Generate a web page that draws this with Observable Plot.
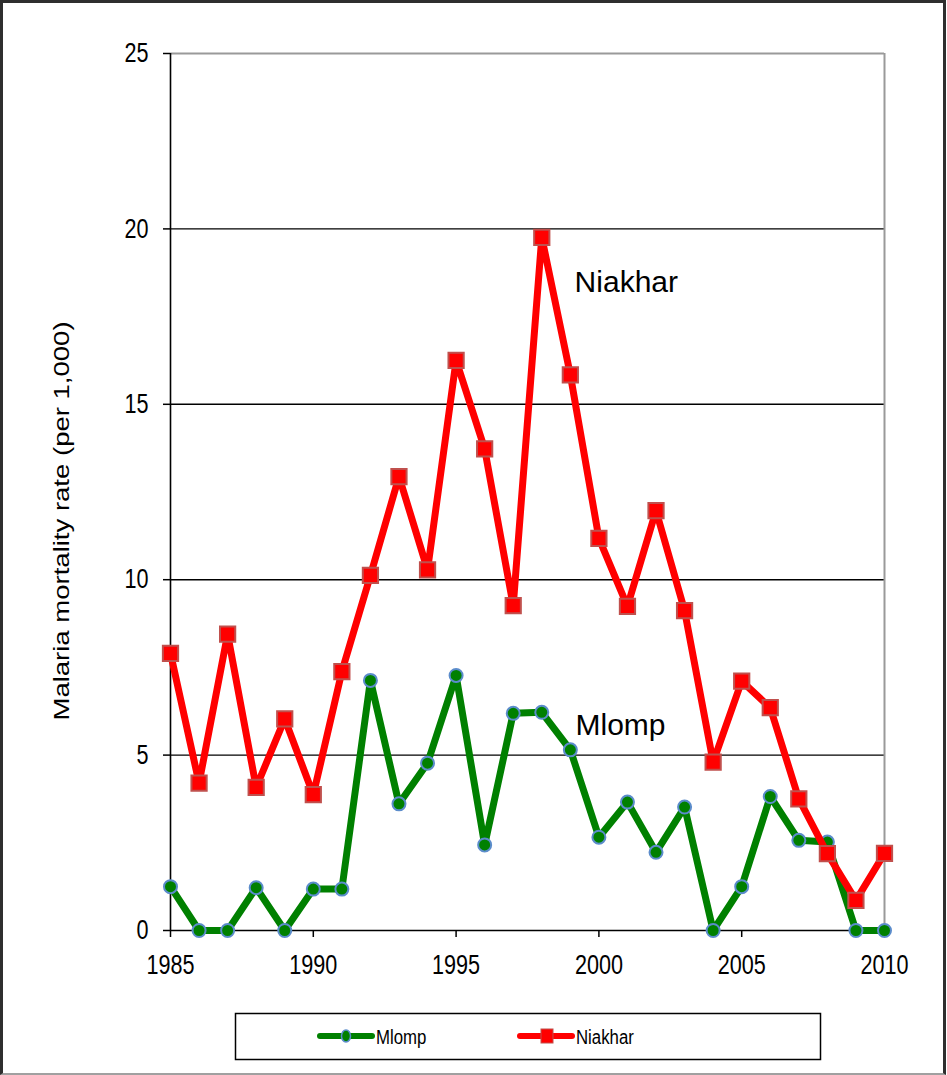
<!DOCTYPE html>
<html>
<head>
<meta charset="utf-8">
<script src="https://cdn.jsdelivr.net/npm/d3@7"></script>
<script src="https://cdn.jsdelivr.net/npm/@observablehq/plot@0.6"></script>
<style>
  html, body { margin: 0; padding: 0; background: #fff; }
  #wrap { position: relative; width: 947px; height: 1075px; overflow: hidden; background: #fff; }
  #chart { position: absolute; left: 0; top: 0; }
  #frame { position: absolute; left: 0; top: 0; width: 946px; height: 1075px; box-sizing: border-box;
           border: 3px solid #2e2e2e; border-bottom: 2px solid #a0a0a0; pointer-events: none; }
  #legend { position: absolute; left: 0; top: 1000px; }
</style>
</head>
<body>
<div id="wrap">
  <div id="chart"></div>
  <svg id="legend" width="947" height="75"></svg>
  <div id="frame"></div>
</div>
<script>
// ---- data ----
const years = [1985, 1986, 1987, 1988, 1989, 1990, 1991, 1992, 1993, 1994, 1995, 1996, 1997,
               1998, 1999, 2000, 2001, 2002, 2003, 2004, 2005, 2006, 2007, 2008, 2009, 2010];
const mlomp = [1.25, 0, 0, 1.22, 0, 1.18, 1.18, 7.13, 3.61, 4.77, 7.27, 2.44, 6.19,
               6.22, 5.15, 2.66, 3.66, 2.23, 3.52, 0, 1.25, 3.82, 2.57, 2.52, 0, 0];
const niakhar = [7.90, 4.20, 8.45, 4.08, 6.03, 3.87, 7.38, 10.12, 12.94, 10.28, 16.25, 13.73, 9.26,
                 19.76, 15.84, 11.18, 9.24, 11.97, 9.12, 4.80, 7.11, 6.35, 3.75, 2.19, 0.86, 2.20];
const seriesNames = ["Mlomp", "Niakhar"];
const yTicks = [0, 5, 10, 15, 20, 25];
const xTicks = [1985, 1990, 1995, 2000, 2005, 2010];
const gridValues = [5, 10, 15, 20];
const yTitle = "Malaria mortality rate (per 1,000)";

const mlompData = years.map((y, i) => ({year: y, value: mlomp[i]}));
const niakharData = years.map((y, i) => ({year: y, value: niakhar[i]}));
const annotations = [
  {label: seriesNames[1], year: 1999.15, value: 18.47},
  {label: seriesNames[0], year: 1999.18, value: 5.84}
];

const font = "'Liberation Sans', Arial, Helvetica, sans-serif";

const plot = Plot.plot({
  width: 947,
  height: 1000,
  marginLeft: 170,
  marginRight: 63,
  marginTop: 53,
  marginBottom: 70,
  x: {domain: [1985, 2010]},
  y: {domain: [0, 25]},
  style: {fontFamily: font, color: "#000", background: "transparent", overflow: "visible"},
  marks: [
    Plot.ruleY(gridValues, {stroke: "#000", strokeWidth: 1.4}),
    Plot.ruleY([25], {stroke: "#9a9a9a", strokeWidth: 2}),
    Plot.ruleX([2010], {stroke: "#9a9a9a", strokeWidth: 2}),
    Plot.axisY({ticks: yTicks, tickSize: 7, tickPadding: 15, tickFormat: d3.format("d"),
                fontSize: 27, label: null, strokeWidth: 1.5}),
    Plot.axisX({ticks: xTicks, tickSize: 7, tickPadding: 17, tickFormat: d3.format("d"),
                fontSize: 27, label: null, strokeWidth: 1.5}),
    Plot.ruleX([1985], {stroke: "#000", strokeWidth: 1.6}),
    Plot.ruleY([0], {stroke: "#000", strokeWidth: 1.6}),
    Plot.line(mlompData, {x: "year", y: "value", stroke: "#008000", strokeWidth: 7,
                          strokeLinejoin: "round", strokeLinecap: "round"}),
    Plot.dot(mlompData, {x: "year", y: "value", r: 6.5, fill: "#008000",
                         stroke: "#5b8ccb", strokeWidth: 2}),
    Plot.line(niakharData, {x: "year", y: "value", stroke: "#ff0000", strokeWidth: 7,
                            strokeLinejoin: "round", strokeLinecap: "round"}),
    Plot.dot(niakharData, {x: "year", y: "value", symbol: "square", r: 8.6, fill: "#ff0000",
                           stroke: "#c0504d", strokeWidth: 2}),
    Plot.text(annotations, {x: "year", y: "value", text: "label", textAnchor: "start",
                            fontSize: 30, fill: "#000"})
  ]
});
document.getElementById("chart").appendChild(plot);

// condensed, tall tick labels (as in the reference)
plot.querySelectorAll('g[aria-label="x-axis tick label"] text, g[aria-label="y-axis tick label"] text')
  .forEach(t => {
    const tr = t.getAttribute("transform");
    if (tr) {
      t.setAttribute("transform", tr + " scale(0.8,1)");
    } else {
      const x = +t.getAttribute("x") || 0, y = +t.getAttribute("y") || 0;
      t.removeAttribute("x"); t.removeAttribute("y");
      t.setAttribute("transform", `translate(${x},${y}) scale(0.8,1)`);
    }
  });

// y-axis title
d3.select(plot).append("text")
  .attr("transform", "translate(69,521) rotate(-90) scale(1.28,1)")
  .attr("text-anchor", "middle")
  .attr("font-family", font)
  .attr("font-size", 21.5)
  .attr("fill", "#000")
  .text(yTitle);

// legend
const lg = d3.select("#legend");
lg.append("rect").attr("x", 235.5).attr("y", 13.5).attr("width", 585).attr("height", 46)
  .attr("fill", "none").attr("stroke", "#000").attr("stroke-width", 1.5);
const items = [
  {name: seriesNames[0], x0: 320, color: "#008000", stroke: "#5b8ccb", symbol: "circle"},
  {name: seriesNames[1], x0: 520, color: "#ff0000", stroke: "#c0504d", symbol: "square"}
];
items.forEach(it => {
  const cy = 36;
  lg.append("line").attr("x1", it.x0).attr("x2", it.x0 + 52).attr("y1", cy).attr("y2", cy)
    .attr("stroke", it.color).attr("stroke-width", 6).attr("stroke-linecap", "round");
  if (it.symbol === "circle") {
    lg.append("ellipse").attr("cx", it.x0 + 26).attr("cy", cy).attr("rx", 4.5).attr("ry", 6)
      .attr("fill", it.color).attr("stroke", it.stroke).attr("stroke-width", 1.5);
  } else {
    lg.append("rect").attr("x", it.x0 + 21).attr("y", cy - 7).attr("width", 12).attr("height", 14)
      .attr("fill", it.color).attr("stroke", it.stroke).attr("stroke-width", 1);
  }
  lg.append("text").attr("transform", `translate(${it.x0 + 56},${cy + 7.5}) scale(0.8,1)`)
    .attr("font-family", font).attr("font-size", 21).attr("fill", "#000").text(it.name);
});
</script>
</body>
</html>
